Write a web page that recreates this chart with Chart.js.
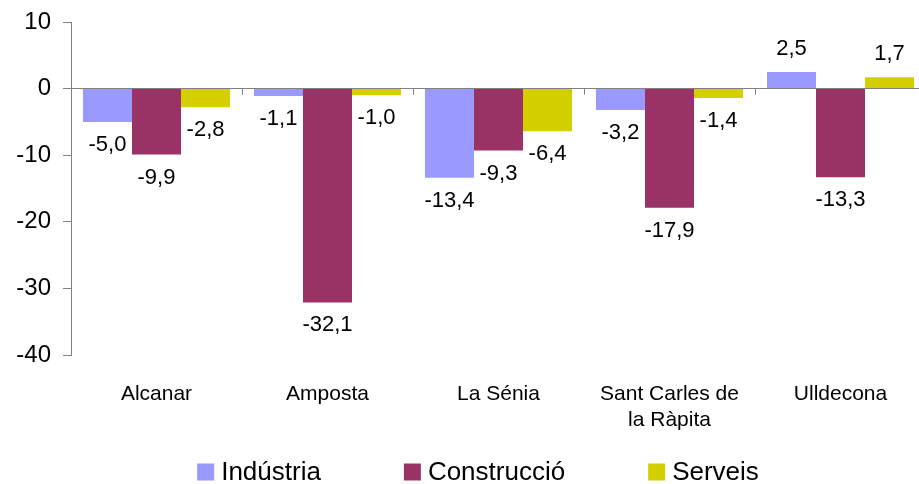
<!DOCTYPE html>
<html>
<head>
<meta charset="utf-8">
<script src="https://cdn.jsdelivr.net/npm/chart.js@4"></script>
<style>
  html, body { margin: 0; padding: 0; overflow: hidden; background: #fff; }
  #wrap { width: 956px; height: 484px; }
</style>
</head>
<body>
<div id="wrap"><canvas id="chart"></canvas></div>
<script>
const categories = ["Alcanar", "Amposta", "La Sénia", ["Sant Carles de", "la Ràpita"], "Ulldecona"];
const industria = [-5.0, -1.1, -13.4, -3.2, 2.5];
const construccio = [-9.9, -32.1, -9.3, -17.9, -13.3];
const serveis = [-2.8, -1.0, -6.4, -1.4, 1.7];
const yTicks = { min: -40, max: 10, step: 10 };

const FONT = "'Liberation Sans', Arial, sans-serif";

const extras = {
    id: 'extras',
    afterDatasetsDraw(chart) {
        const ctx = chart.ctx;
        const x = chart.scales.x;
        const y = chart.scales.y;
        const zero = y.getPixelForValue(0);

        // small ticks on the zero line between categories
        ctx.save();
        ctx.strokeStyle = '#808080';
        ctx.lineWidth = 1;
        const n = chart.data.labels.length;
        for (let i = 1; i < n; i++) {
            const px = Math.round((x.getPixelForTick(i - 1) + x.getPixelForTick(i)) / 2) + 0.5;
            ctx.beginPath();
            ctx.moveTo(px, zero);
            ctx.lineTo(px, zero + 6);
            ctx.stroke();
        }

        // value labels
        ctx.fillStyle = '#000';
        ctx.font = '22px ' + FONT;
        ctx.textAlign = 'center';
        ctx.textBaseline = 'middle';
        chart.data.datasets.forEach((ds, di) => {
            chart.getDatasetMeta(di).data.forEach((bar, i) => {
                const v = ds.data[i];
                const txt = v.toFixed(1).replace('.', ',');
                const ty = v < 0 ? bar.y + 23 : bar.y - 23;
                ctx.fillText(txt, bar.x, ty);
            });
        });

        // legend
        ctx.font = '26px ' + FONT;
        ctx.textAlign = 'left';
        const box = 17, boxGap = 7, itemGap = 83;
        const widths = chart.data.datasets.map(ds => box + boxGap + ctx.measureText(ds.label).width);
        const total = widths.reduce((a, b) => a + b, 0) + itemGap * (widths.length - 1);
        let lx = chart.width / 2 - total / 2;
        const ly = 472;
        chart.data.datasets.forEach((ds, di) => {
            ctx.fillStyle = ds.backgroundColor;
            ctx.fillRect(lx, ly - box / 2, box, box);
            ctx.fillStyle = '#000';
            ctx.fillText(ds.label, lx + box + boxGap, ly + 1);
            lx += widths[di] + itemGap;
        });
        ctx.restore();
    }
};

new Chart(document.getElementById('chart'), {
    type: 'bar',
    data: {
        labels: categories,
        datasets: [
            { label: 'Indústria', data: industria, backgroundColor: '#9999FF' },
            { label: 'Construcció', data: construccio, backgroundColor: '#993366' },
            { label: 'Serveis', data: serveis, backgroundColor: '#D4D000' }
        ]
    },
    options: {
        responsive: true,
        maintainAspectRatio: false,
        animation: false,
        layout: { padding: { top: 22, right: 30, bottom: 39, left: 0 } },
        datasets: {
            bar: { categoryPercentage: 0.86, barPercentage: 1.0 }
        },
        plugins: {
            legend: { display: false },
            tooltip: { enabled: false }
        },
        scales: {
            x: {
                grid: { display: false },
                border: { display: false },
                ticks: {
                    color: '#000',
                    font: { family: FONT, size: 21 },
                    padding: 19,
                    maxRotation: 0,
                    autoSkip: false
                },
                afterFit: s => { s.height = 90; }
            },
            y: {
                min: yTicks.min,
                max: yTicks.max,
                border: { display: true, color: '#808080', width: 1 },
                grid: {
                    color: c => (c.tick && c.tick.value === 0) ? '#808080' : 'rgba(0,0,0,0)',
                    tickColor: '#808080',
                    tickLength: 8,
                    lineWidth: 1
                },
                ticks: {
                    stepSize: yTicks.step,
                    color: '#000',
                    font: { family: FONT, size: 24 },
                    padding: 12
                },
                afterFit: s => { s.width = 71; s.paddingTop = 0; s.paddingBottom = 0; }
            }
        }
    },
    plugins: [extras]
});
</script>
</body>
</html>
